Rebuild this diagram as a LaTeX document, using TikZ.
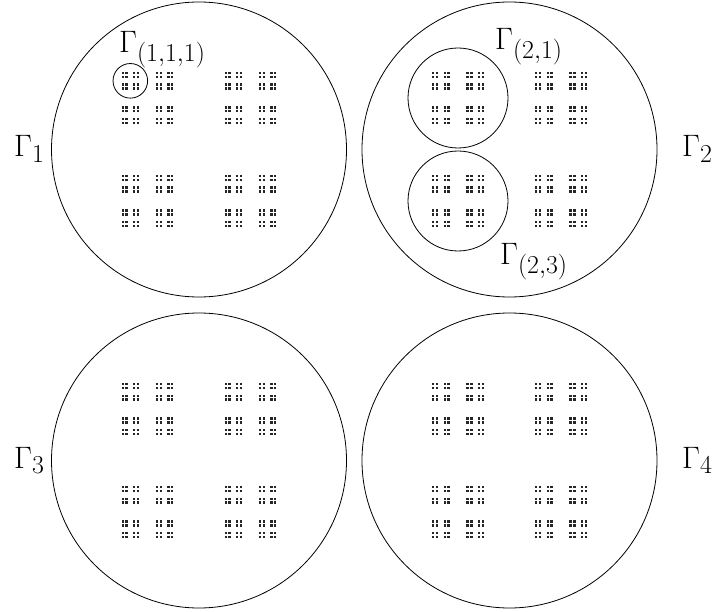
\documentclass[tikz,border=0pt]{standalone}
\usepackage{graphicx}
\newcommand{\biglab}[1]{\scalebox{1.246}{\Huge$#1$}}
\begin{document}
\begin{tikzpicture}[x=1pt,y=-1pt,
  bigc/.style={draw,circle,line width=0.8pt,inner sep=0pt,minimum size=295pt},
  midc/.style={draw,circle,line width=0.8pt,inner sep=0pt,minimum size=100pt},
  smallc/.style={draw,circle,line width=0.8pt,inner sep=0pt,minimum size=34.6pt},
  lab/.style={anchor=base west,inner sep=0pt}]
\useasboundingbox (0,0) rectangle (714,612);
% big circles
\node[bigc] (G1) at (199,149.5) {};
\node[bigc] (G2) at (509.5,149.5) {};
\node[bigc] (G3) at (199,460.5) {};
\node[bigc] (G4) at (509.5,460.5) {};
% Cantor dust
\foreach \cx/\cy in {199/149.5, 509.5/149.5, 199/460.5, 509.5/460.5}{
  \foreach \a in {-1,1}{\foreach \b in {-1,1}{
  \foreach \c in {-1,1}{\foreach \d in {-1,1}{
  \foreach \e in {-1,1}{\foreach \f in {-1,1}{
  \foreach \g in {-1,1}{\foreach \h in {-1,1}{
    \fill[black!85] ({\cx+51.5*\a+17.167*\c+5.722*\e+1.907*\g-1.15},{\cy+51.5*\b+17.167*\d+5.722*\f+1.907*\h-1.15})
      rectangle ++(2.3,2.3);
  }}}}}}}}
}
% sub circles
\node[smallc] (G111) at (130.33,80.83) {};
\node[midc] (G21) at (458,98) {};
\node[midc] (G23) at (458,201) {};
% labels
\node[lab] (L1) at (14,157) {\biglab{\Gamma_1}};
\node[lab] (L2) at (682,157) {\biglab{\Gamma_2}};
\node[lab] (L3) at (14,468) {\biglab{\Gamma_3}};
\node[lab] (L4) at (682,468) {\biglab{\Gamma_4}};
\node[lab] (L111) at (119,53) {\biglab{\Gamma_{(1,1,1)}}};
\node[lab] (L21) at (495,50) {\biglab{\Gamma_{(2,1)}}};
\node[lab] (L23) at (500,265) {\biglab{\Gamma_{(2,3)}}};
\end{tikzpicture}
\end{document}
